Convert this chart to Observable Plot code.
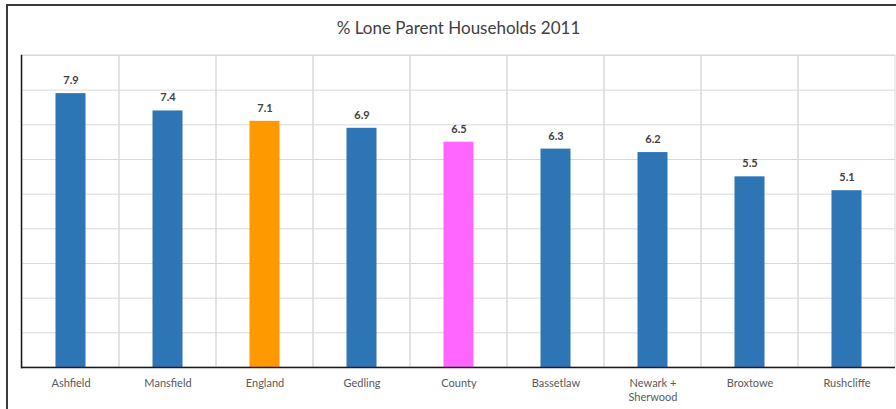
<!DOCTYPE html>
<html>
<head>
<meta charset="utf-8">
<script src="https://cdn.jsdelivr.net/npm/d3@7"></script>
<script src="https://cdn.jsdelivr.net/npm/@observablehq/plot@0.6"></script>
<style>
  html, body { margin: 0; padding: 0; background: #fff; width: 896px; height: 409px; overflow: hidden; }
  #frame { position: absolute; left: 6px; top: 4px; width: 900px; height: 420px; border: 2px solid #3a3a3a; box-sizing: border-box; }
  #chart { position: absolute; left: 0; top: 0; }
</style>
</head>
<body>
<div id="frame"></div>
<div id="chart"></div>
<script>
const title = "% Lone Parent Households 2011";
const categories = ["Ashfield", "Mansfield", "England", "Gedling", "County", "Bassetlaw", "Newark + Sherwood", "Broxtowe", "Rushcliffe"];
const tickLabels = ["Ashfield", "Mansfield", "England", "Gedling", "County", "Bassetlaw", "Newark +\nSherwood", "Broxtowe", "Rushcliffe"];
const values = [7.9, 7.4, 7.1, 6.9, 6.5, 6.3, 6.2, 5.5, 5.1];
const barColors = ["#2E75B6", "#2E75B6", "#FF9900", "#2E75B6", "#FF66FF", "#2E75B6", "#2E75B6", "#2E75B6", "#2E75B6"];
const yTicks = [1, 2, 3, 4, 5, 6, 7, 8, 9];
const yMax = 9;

const data = categories.map((c, i) => ({cat: c, value: values[i], color: barColors[i], label: tickLabels[i]}));
const labelOf = new Map(data.map(d => [d.cat, d.label]));

const chart = Plot.plot({
  width: 896,
  height: 409,
  marginLeft: 21,
  marginRight: 1,
  marginTop: 55,
  marginBottom: 42,
  style: {fontFamily: "Lato, 'Open Sans', sans-serif", background: "transparent"},
  x: {domain: categories, padding: 0, label: null},
  y: {domain: [0, yMax], label: null},
  marks: [
    Plot.barY(data, {x: "cat", y1: 0, y2: yMax, fill: "none", stroke: "#d9d9d9", strokeWidth: 1}),
    Plot.gridY(yTicks, {stroke: "#d9d9d9", strokeOpacity: 1, strokeWidth: 1}),
    Plot.barY(data, {x: "cat", y: "value", fill: "color", insetLeft: 33.5, insetRight: 33.5}),
    Plot.text(data, {x: "cat", y: "value", text: d => d.value.toFixed(1), dy: -13, fontWeight: "bold", fontSize: 11, fill: "#404040"}),
    Plot.ruleY([0], {stroke: "#1a1a1a", strokeWidth: 1.5}),
    Plot.frame({anchor: "left", stroke: "#1a1a1a", strokeWidth: 1.5}),
    Plot.axisX({tickSize: 0, tickPadding: 9, fontSize: 11, lineHeight: 1.3, fill: "#595959", tickFormat: c => labelOf.get(c), label: null}),
    Plot.axisY({ticks: [], label: null}),
    Plot.text([title], {frameAnchor: "top", lineAnchor: "middle", dy: -27, fontSize: 17, fill: "#404040", text: d => d})
  ]
});
document.getElementById("chart").appendChild(chart);
</script>
</body>
</html>
